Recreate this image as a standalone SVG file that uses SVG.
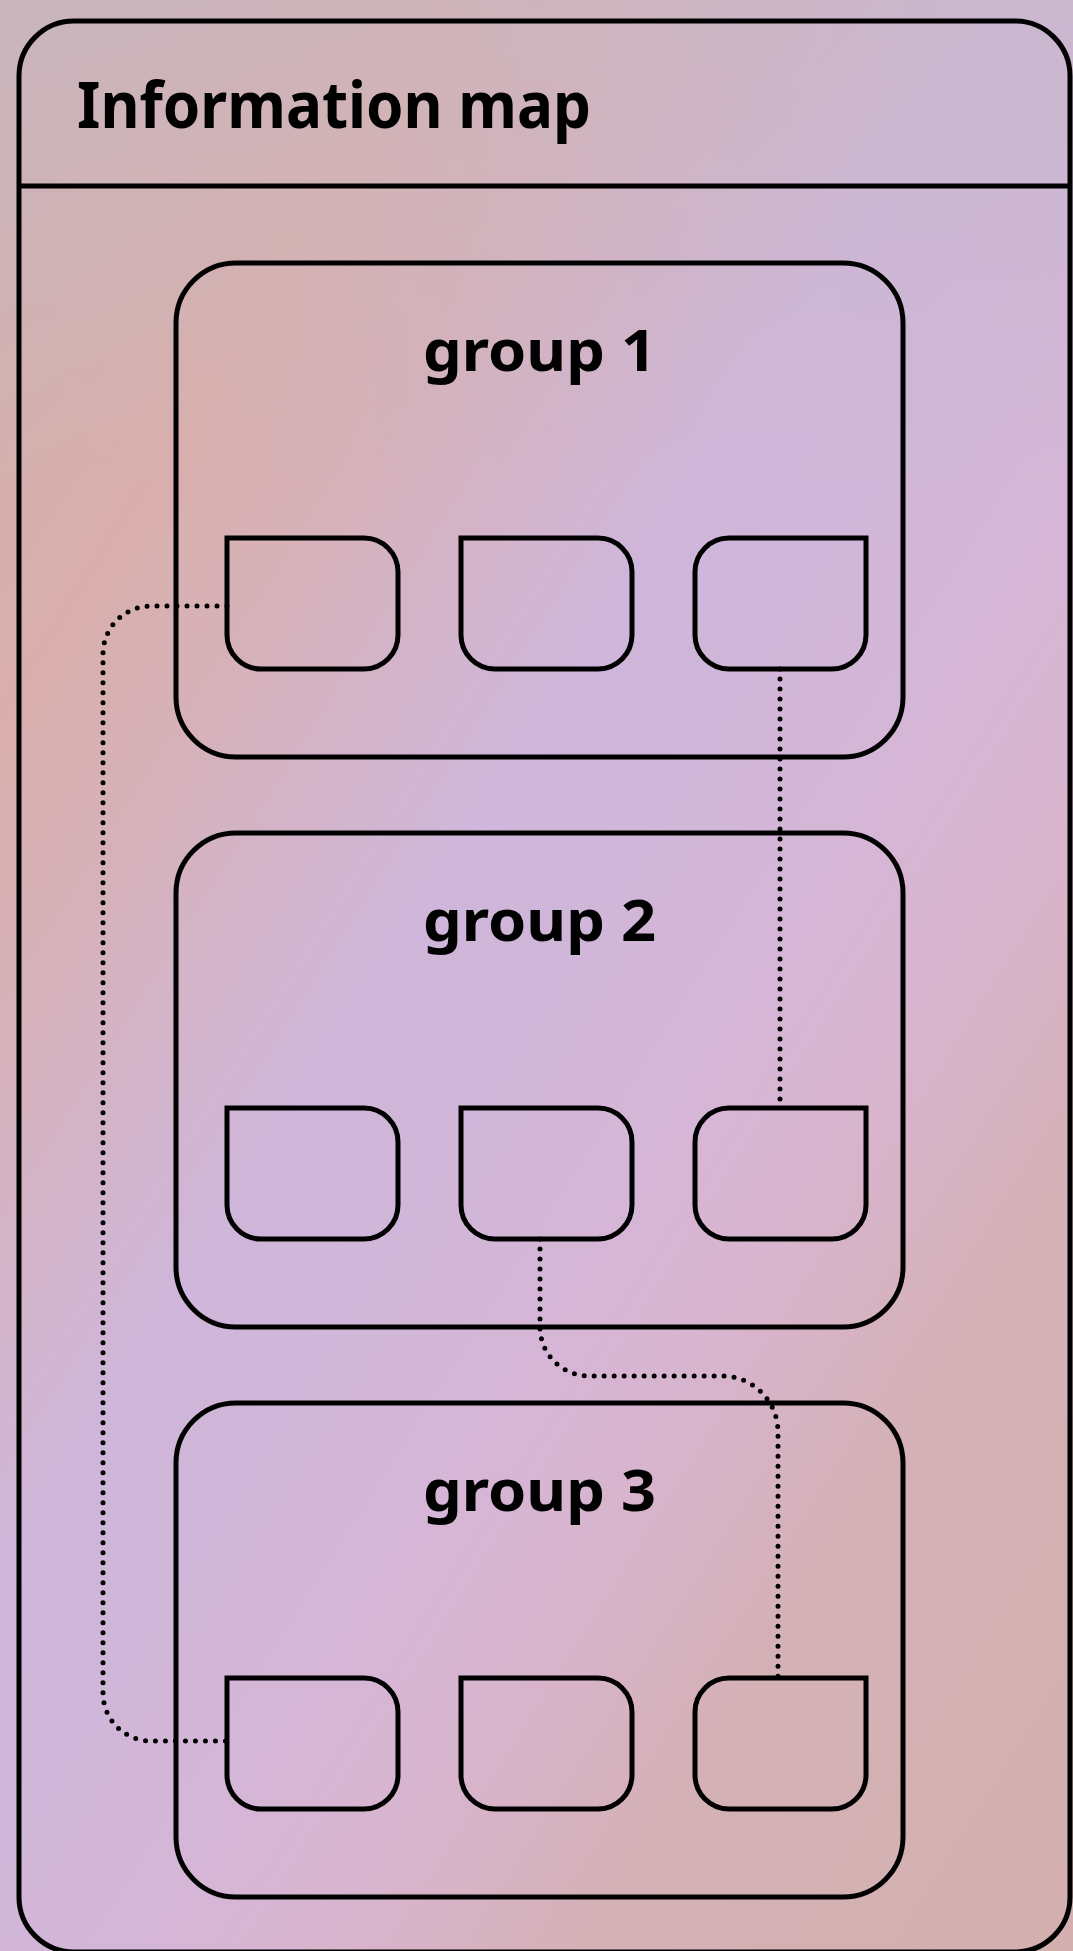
<svg xmlns="http://www.w3.org/2000/svg" xmlns:xlink="http://www.w3.org/1999/xlink" width="1073" height="1951" viewBox="0 0 1073 1951">
  <style>
    .frame { fill: none; stroke: #000; stroke-width: 5; }
    .box { fill: none; stroke: #000; stroke-width: 5; }
    .link { fill: none; stroke: #000; stroke-width: 5; stroke-linecap: round; stroke-dasharray: 0 10; }
    .title { font-family: "Noto Sans", "DejaVu Sans", sans-serif; font-weight: 700; font-size: 64px; fill: #000; }
    .label { font-family: "Noto Sans", "DejaVu Sans", sans-serif; font-weight: 700; font-size: 58px; fill: #000; }
  </style>
  <defs>
    <linearGradient id="bg" gradientUnits="userSpaceOnUse" x1="0" y1="0" x2="1700" y2="1073">
      <stop offset="0" stop-color="#cdb2b2"/>
      <stop offset="0.19" stop-color="#d9afac"/>
      <stop offset="0.27" stop-color="#d6b1b8"/>
      <stop offset="0.42" stop-color="#cfb6da"/>
      <stop offset="0.5" stop-color="#d0b6d8"/>
      <stop offset="0.59" stop-color="#d6b6d6"/>
      <stop offset="0.67" stop-color="#d8b4cc"/>
      <stop offset="0.76" stop-color="#d4b1b6"/>
      <stop offset="1" stop-color="#d3b0ad"/>
    </linearGradient>
    <linearGradient id="haze" gradientUnits="userSpaceOnUse" x1="0" y1="0" x2="0" y2="480">
      <stop offset="0" stop-color="#c6b8c6" stop-opacity="0.55"/>
      <stop offset="1" stop-color="#c6b8c6" stop-opacity="0"/>
    </linearGradient>
    <!-- card with a square top-left corner -->
    <path id="cardL" d="M0 0 H137 A34 34 0 0 1 171 34 V97 A34 34 0 0 1 137 131 H34 A34 34 0 0 1 0 97 Z"/>
    <!-- card with a square top-right corner -->
    <path id="cardR" d="M171 0 V97 A34 34 0 0 1 137 131 H34 A34 34 0 0 1 0 97 V34 A34 34 0 0 1 34 0 Z"/>
  </defs>

  <rect x="0" y="0" width="1073" height="1951" fill="url(#bg)"/>
  <rect x="0" y="0" width="1073" height="480" fill="url(#haze)"/>

  <g id="map">
    <rect class="frame" x="19" y="21" width="1051" height="1931" rx="55"/>
    <line class="frame" x1="19" y1="186" x2="1070" y2="186"/>
    <text class="title" x="77" y="128" textLength="514" lengthAdjust="spacingAndGlyphs">Information map</text>
  </g>

  <g id="group1">
    <rect class="box" x="176" y="263" width="727" height="494" rx="60"/>
    <text class="label" x="423" y="371" textLength="233" lengthAdjust="spacingAndGlyphs">group 1</text>
    <g id="g1-a"><use xlink:href="#cardL" class="box" x="227" y="538"/></g>
    <g id="g1-b"><use xlink:href="#cardL" class="box" x="461" y="538"/></g>
    <g id="g1-c"><use xlink:href="#cardR" class="box" x="695" y="538"/></g>
  </g>

  <g id="group2">
    <rect class="box" x="176" y="833" width="727" height="494" rx="60"/>
    <text class="label" x="423" y="941" textLength="233" lengthAdjust="spacingAndGlyphs">group 2</text>
    <g id="g2-a"><use xlink:href="#cardL" class="box" x="227" y="1108"/></g>
    <g id="g2-b"><use xlink:href="#cardL" class="box" x="461" y="1108"/></g>
    <g id="g2-c"><use xlink:href="#cardR" class="box" x="695" y="1108"/></g>
  </g>

  <g id="group3">
    <rect class="box" x="176" y="1403" width="727" height="494" rx="60"/>
    <text class="label" x="423" y="1511" textLength="233" lengthAdjust="spacingAndGlyphs">group 3</text>
    <g id="g3-a"><use xlink:href="#cardL" class="box" x="227" y="1678"/></g>
    <g id="g3-b"><use xlink:href="#cardL" class="box" x="461" y="1678"/></g>
    <g id="g3-c"><use xlink:href="#cardR" class="box" x="695" y="1678"/></g>
  </g>

  <g id="connectors">
    <path class="link" d="M227 606 H151 A48 48 0 0 0 103 654 V1693 A48 48 0 0 0 151 1741 H227"/>
    <path class="link" d="M780 669 V1108"/>
    <path class="link" d="M540 1239 V1327 A49 49 0 0 0 589 1376 H722 A56 56 0 0 1 778 1432 V1678"/>
  </g>
</svg>
